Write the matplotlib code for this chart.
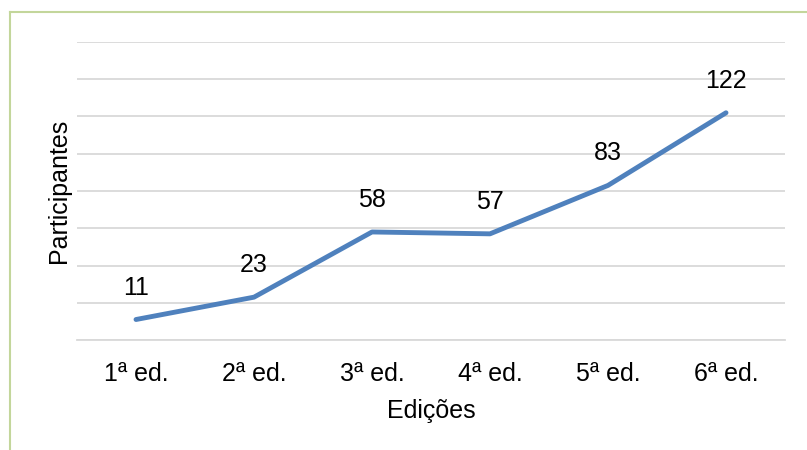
import matplotlib
matplotlib.use('Agg')
import matplotlib.pyplot as plt
from matplotlib.lines import Line2D

plt.rcParams['font.family'] = ['Liberation Sans', 'DejaVu Sans']

edicoes = ['1ª ed.', '2ª ed.', '3ª ed.', '4ª ed.', '5ª ed.', '6ª ed.']
participantes = [11, 23, 58, 57, 83, 122]

fig = plt.figure(figsize=(8.07, 4.5), dpi=100)
ax = fig.add_axes([77 / 807, 1 - 340 / 450, 708 / 807, 298 / 450])

x = range(len(edicoes))
ax.plot(x, participantes, color='#4f81bd', lw=3.5, solid_capstyle='round', solid_joinstyle='round', zorder=3)

for xi, v in zip(x, participantes):
    ax.annotate(str(v), (xi, v), xytext=(0, 23), textcoords='offset points',
                ha='center', va='center', fontsize=18, color='black')

ax.set_xlim(-0.5, len(edicoes) - 0.5)
ax.set_ylim(0, 160)
ax.set_yticks(range(0, 161, 20))
ax.set_yticklabels([])
ax.set_xticks(list(x))
ax.set_xticklabels(edicoes, fontsize=18)
ax.tick_params(axis='both', length=0)
ax.tick_params(axis='x', pad=16)
ax.grid(axis='y', color='#d9d9d9', lw=1.3)
ax.set_axisbelow(True)
for s in ['left', 'right', 'top']:
    ax.spines[s].set_visible(False)
ax.spines['bottom'].set_color('#d9d9d9')
ax.spines['bottom'].set_linewidth(1.3)

ax.set_xlabel('Edições', fontsize=18, labelpad=9)
ax.set_ylabel('Participantes', fontsize=18)
ax.yaxis.set_label_coords(-0.008, 0.5)

# chart area border (left and top edges visible)
fig.add_artist(Line2D([10 / 807, 10 / 807], [0, 1 - 12 / 450], color='#c3d69b', lw=1.5, transform=fig.transFigure))
fig.add_artist(Line2D([10 / 807, 1], [1 - 12 / 450, 1 - 12 / 450], color='#c3d69b', lw=1.5, transform=fig.transFigure))

fig.savefig('out.png', dpi=100)
